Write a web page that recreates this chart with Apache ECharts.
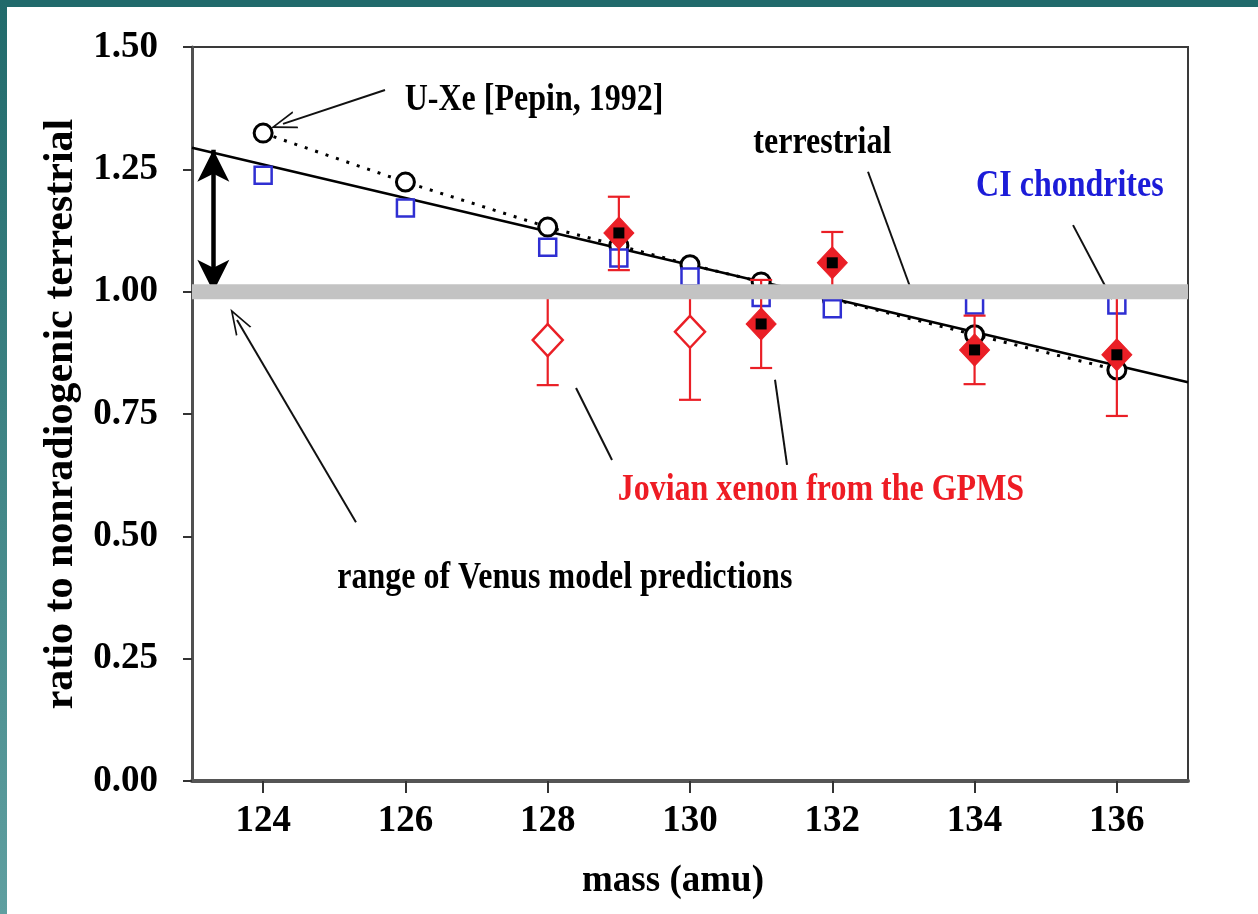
<!DOCTYPE html>
<html>
<head>
<meta charset="utf-8">
<script src="https://cdn.jsdelivr.net/npm/echarts@6/dist/echarts.min.js"></script>
<style>
  html, body { margin: 0; padding: 0; background: #ffffff; }
  #chart { width: 1258px; height: 914px; }
  .edge-top { position: absolute; left: 0; top: 0; width: 1258px; height: 7px; background: #216a6b; }
  .edge-left { position: absolute; left: 0; top: 0; width: 7px; height: 914px; background: linear-gradient(#216a6b, #5f9fa0); }
</style>
</head>
<body>
<div id="chart"></div>
<div class="edge-top"></div>
<div class="edge-left"></div>
<script>
// Xenon isotope ratios normalised to nonradiogenic terrestrial xenon
const massTicks = [124, 126, 128, 130, 132, 134, 136];
const ratioTicks = [0, 0.25, 0.5, 0.75, 1.0, 1.25, 1.5];

// U-Xe (Pepin 1992)
const uxeMass  = [124, 126, 128, 129, 130, 131, 132, 134, 136];
const uxeRatio = [1.324, 1.224, 1.132, 1.094, 1.055, 1.020, 0.985, 0.912, 0.840];

// CI chondrites
const ciMass  = [124, 126, 128, 129, 130, 131, 132, 134, 136];
const ciRatio = [1.238, 1.171, 1.091, 1.069, 1.030, 0.988, 0.965, 0.973, 0.973];

// Jovian xenon from the Galileo probe mass spectrometer
const gpmsMass    = [128, 129, 130, 131, 132, 134, 136];
const gpmsRatio   = [0.901, 1.120, 0.918, 0.934, 1.059, 0.881, 0.871];
const gpmsErrLow  = [0.092, 0.076, 0.139, 0.090, 0.063, 0.070, 0.125];
const gpmsErrHigh = [0.090, 0.074, 0.080, 0.090, 0.063, 0.070, 0.125];
const gpmsFilled  = [false, true, false, true, true, true, true];

// straight mass-fractionation line
const fitMass  = [123, 137];
const fitRatio = [1.294, 0.815];

// terrestrial reference and Venus model range
const terrestrialRatio = 1.0;
const venusMass = 123.3;
const venusRange = [1.0, 1.29];

// text notes, anchored in data coordinates
const notes = [
  { text: 'U-Xe [Pepin, 1992]', at: [125.99, 1.392], align: 'left', color: '#000000', size: 32 },
  { text: 'terrestrial', at: [131.86, 1.304], align: 'center', color: '#000000', size: 32 },
  { text: 'CI chondrites', at: [135.34, 1.216], align: 'center', color: '#1c1cd8', size: 32 },
  { text: 'Jovian xenon from the GPMS', at: [131.84, 0.595], align: 'center', color: '#ee1c24', size: 32 },
  { text: 'range of Venus model predictions', at: [128.24, 0.415], align: 'center', color: '#000000', size: 32 }
];

// pointer lines: [from, to, arrow head at "to"]
const pointers = [
  [[125.713, 1.412], [124.279, 1.343], true],
  [[125.305, 0.529], [123.633, 0.942], true],
  [[132.502, 1.245], [133.093, 1.010], false],
  [[135.384, 1.136], [135.932, 0.985], false],
  [[128.398, 0.803], [128.904, 0.656], false],
  [[131.195, 0.820], [131.364, 0.646], false]
];

const serif = '"Liberation Serif", "Times New Roman", serif';
const red = '#ea1f26';
const blue = '#2f2fd2';
const openHead = 'path://M0,0 L7,16 L5.6,16 L0,3.2 L-5.6,16 L-7,16 Z';

const chart = echarts.init(document.getElementById('chart'), null, { renderer: 'canvas' });

const pairs = (xs, ys) => xs.map((x, i) => [x, ys[i]]);

const option = {
  animation: false,
  backgroundColor: '#ffffff',
  grid: {
    left: 192, right: 70, top: 47, bottom: 133,
    show: true, borderColor: '#3a3a3a', borderWidth: 2, backgroundColor: 'transparent'
  },
  xAxis: {
    type: 'value', min: 123, max: 137,
    name: 'mass (amu)', nameLocation: 'middle', nameGap: 82,
    nameTextStyle: { fontFamily: serif, fontWeight: 'bold', fontSize: 37, color: '#000', padding: [0, 34, 0, 0] },
    axisLine: { show: true, lineStyle: { color: '#555555', width: 4 } },
    axisTick: { show: true, length: 12, customValues: massTicks, lineStyle: { color: '#333', width: 2 } },
    axisLabel: { customValues: massTicks, margin: 22, fontFamily: serif, fontWeight: 'bold', fontSize: 37, color: '#000' },
    splitLine: { show: false }
  },
  yAxis: {
    type: 'value', min: 0, max: 1.5, interval: 0.25,
    name: 'ratio to nonradiogenic terrestrial', nameLocation: 'middle', nameGap: 102, nameRotate: 90,
    nameTextStyle: { fontFamily: serif, fontWeight: 'bold', fontSize: 42, color: '#000' },
    axisLine: { show: true, lineStyle: { color: '#505050', width: 3 } },
    axisTick: { show: true, length: 9, lineStyle: { color: '#333', width: 2 } },
    axisLabel: {
      margin: 34, fontFamily: serif, fontWeight: 'bold', fontSize: 37, color: '#000',
      formatter: v => v.toFixed(2)
    },
    splitLine: { show: false }
  },
  series: [
    {
      name: 'fit', type: 'line', z: 2, data: pairs(fitMass, fitRatio),
      symbol: 'none', lineStyle: { color: '#000', width: 2.5 }
    },
    {
      name: 'U-Xe', type: 'line', z: 3, data: pairs(uxeMass, uxeRatio),
      symbol: 'circle', symbolSize: 18, showAllSymbol: true,
      lineStyle: { color: '#000', width: 3, type: [3, 8] },
      itemStyle: { color: '#ffffff', borderColor: '#000', borderWidth: 3, opacity: 1 }
    },
    {
      name: 'CI chondrites', type: 'scatter', z: 4, data: pairs(ciMass, ciRatio),
      symbol: 'rect', symbolSize: 17,
      itemStyle: { color: '#ffffff', borderColor: blue, borderWidth: 2.5, opacity: 1 }
    },
    {
      name: 'GPMS error', type: 'custom', z: 5,
      data: gpmsMass.map((m, i) => [m, gpmsRatio[i] - gpmsErrLow[i], gpmsRatio[i] + gpmsErrHigh[i]]),
      encode: { x: 0, y: [1, 2] },
      renderItem: function (params, api) {
        const x = api.value(0);
        const lo = api.coord([x, api.value(1)]);
        const hi = api.coord([x, api.value(2)]);
        const w = 11;
        const st = { stroke: red, lineWidth: 2.2 };
        return {
          type: 'group',
          children: [
            { type: 'line', shape: { x1: lo[0], y1: lo[1], x2: hi[0], y2: hi[1] }, style: st },
            { type: 'line', shape: { x1: lo[0] - w, y1: lo[1], x2: lo[0] + w, y2: lo[1] }, style: st },
            { type: 'line', shape: { x1: hi[0] - w, y1: hi[1], x2: hi[0] + w, y2: hi[1] }, style: st }
          ]
        };
      }
    },
    {
      name: 'GPMS', type: 'scatter', z: 6, symbol: 'diamond',
      data: gpmsMass.map((m, i) => ({
        value: [m, gpmsRatio[i]],
        symbolSize: [30, 32],
        itemStyle: gpmsFilled[i]
          ? { color: red, borderColor: red, borderWidth: 1, opacity: 1 }
          : { color: '#ffffff', borderColor: red, borderWidth: 2.5, opacity: 1 }
      }))
    },
    {
      name: 'GPMS centre', type: 'scatter', z: 7, symbol: 'rect', symbolSize: 11,
      data: gpmsMass.map((m, i) => [m, gpmsRatio[i]]).filter((d, i) => gpmsFilled[i]),
      itemStyle: { color: '#000000', opacity: 1 }
    },
    {
      name: 'terrestrial', type: 'line', z: 8, symbol: 'none',
      data: [[123, terrestrialRatio], [137, terrestrialRatio]],
      lineStyle: { color: '#c3c3c3', width: 15 }
    },
    {
      name: 'notes', type: 'line', z: 9, data: [], silent: true,
      markLine: {
        silent: true, animation: false,
        label: { show: false },
        data: [
          [
            { coord: [venusMass, venusRange[0]], symbol: 'arrow', symbolSize: [24, 32], lineStyle: { color: '#000', width: 4.5, type: 'solid' } },
            { coord: [venusMass, venusRange[1]], symbol: 'arrow', symbolSize: [24, 32] }
          ]
        ].concat(pointers.map(p => [
          { coord: p[0], symbol: 'none', lineStyle: { color: '#111', width: 2, type: 'solid' } },
          { coord: p[1], symbol: p[2] ? openHead : 'none', symbolSize: [18, 26] }
        ])),
        lineStyle: { color: '#111', width: 2, type: 'solid' },
        itemStyle: { color: '#111' }
      }
    }
  ]
};

chart.setOption(option);

// place the text notes through the grid's coordinate system
chart.setOption({
  graphic: notes.map(n => {
    const p = chart.convertToPixel({ gridIndex: 0 }, n.at);
    return {
      type: 'text', x: p[0], y: p[1], z: 100, scaleY: 1.2,
      style: {
        text: n.text, fill: n.color, align: n.align, verticalAlign: 'middle',
        font: 'bold ' + n.size + 'px ' + serif
      }
    };
  })
});
</script>
</body>
</html>
